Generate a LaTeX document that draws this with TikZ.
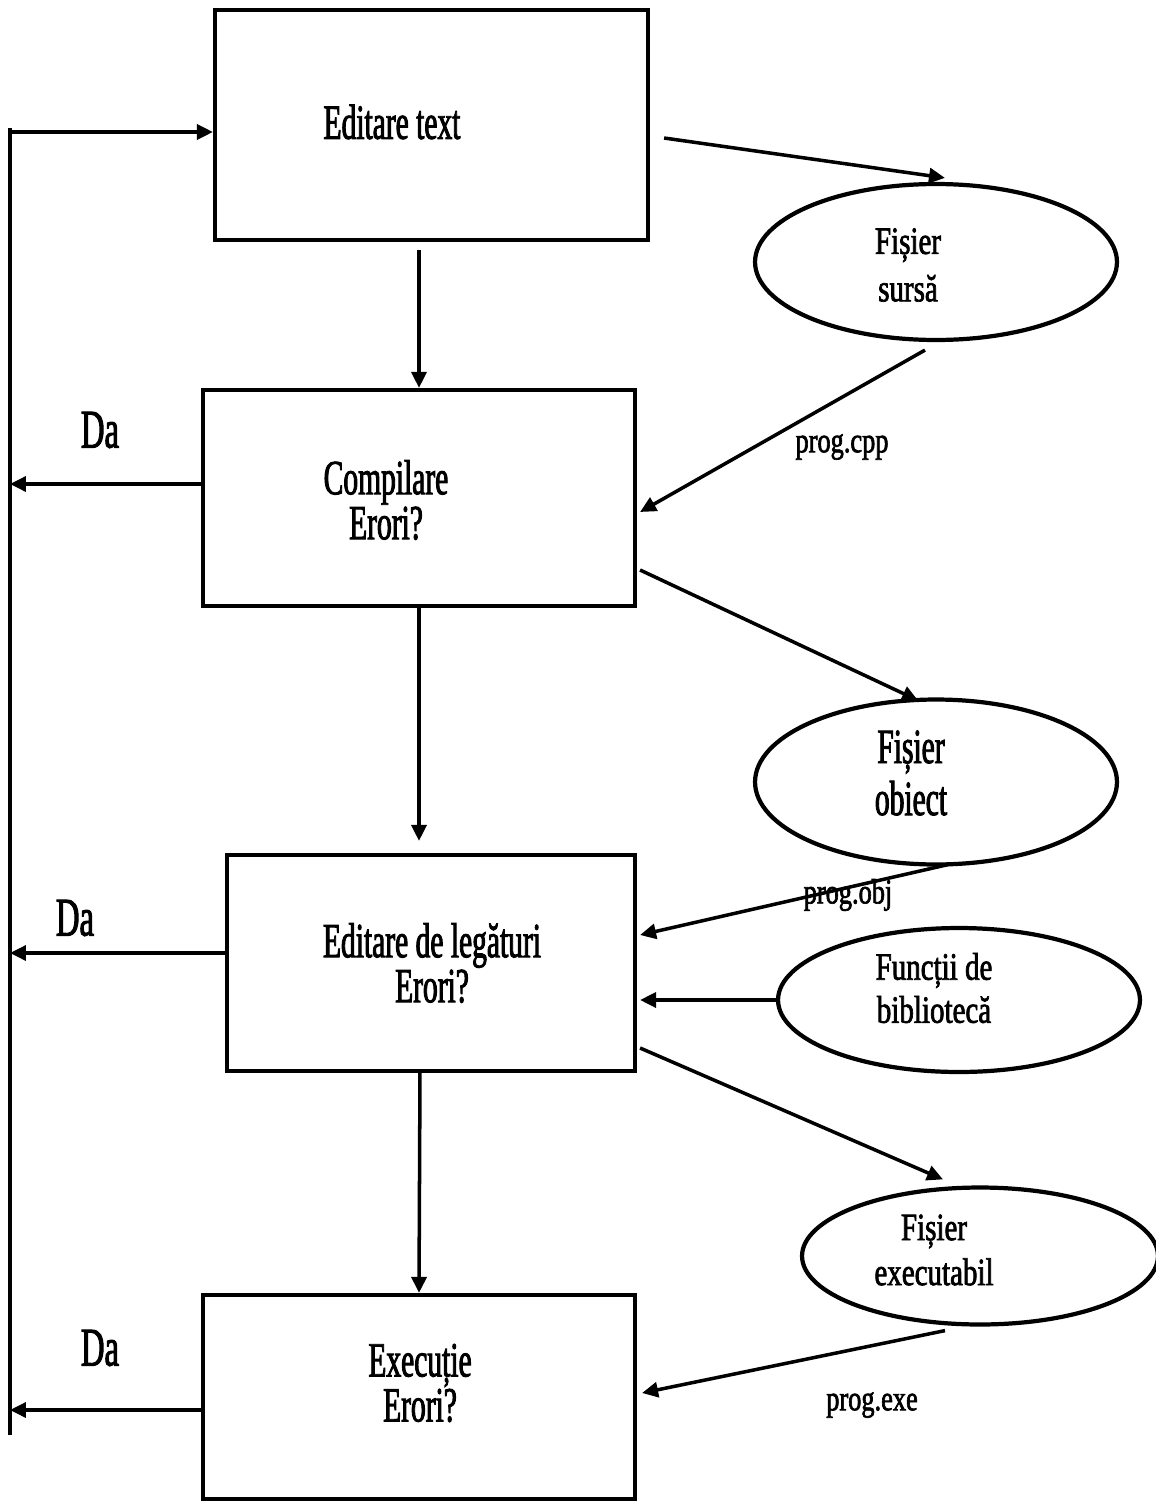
\documentclass[tikz,border=0pt]{standalone}
\usepackage{fontspec}
\setmainfont{Liberation Serif}[FakeStretch=0.6, FakeBold=1.8]
\newfontfamily\ovalfont{Liberation Serif}[FakeStretch=0.75, FakeBold=1.8]
\usetikzlibrary{positioning,arrows.meta,shapes.geometric}

\begin{document}
\begin{tikzpicture}[
  x=0.02cm, y=-0.02cm,
  stage/.style={draw, rectangle, line width=2.4pt, inner sep=0pt},
  file/.style={draw, ellipse, line width=2.4pt, inner sep=0pt},
  boxtext/.style={align=center, font=\fontsize{28}{25.6}\selectfont},
  ovaltext/.style={align=center, font=\ovalfont\fontsize{22}{27}\selectfont},
  labeltext/.style={font=\ovalfont\fontsize{20}{24}\selectfont},
  answer/.style={font=\fontsize{31}{31}\selectfont},
  flow/.style={-{Triangle[length=3.2mm,width=3mm]}, line width=2pt}
]
  \useasboundingbox (0,0) rectangle (1156,1501);

  % stages
  \node[stage, minimum width=8.66cm, minimum height=4.6cm] (edit) at (431.5,125) {};
  \node[stage, minimum width=8.64cm, minimum height=4.32cm] (comp) at (419,498) {};
  \node[stage, minimum width=8.16cm, minimum height=4.32cm] (link) at (431,963) {};
  \node[stage, minimum width=8.64cm, minimum height=4.08cm] (exec) at (419,1397) {};

  \node[boxtext] (edittxt) at (392,122) {Editare text};
  \node[boxtext] (comptxt) at (386,500) {Compilare\\Erori?};
  \node[boxtext] (linktxt) at (432,963) {Editare de legături\\Erori?};
  \node[boxtext] (exectxt) at (420,1383) {Execuție\\Erori?};

  % files
  \node[file, minimum width=7.24cm, minimum height=3.12cm] (sursa) at (936,262) {};
  \node[file, minimum width=7.24cm, minimum height=3.3cm] (obiect) at (936,782) {};
  \node[file, minimum width=7.24cm, minimum height=2.88cm] (functii) at (959,1000) {};
  \node[file, minimum width=7.12cm, minimum height=2.74cm] (exe) at (980,1256) {};

  \node[ovaltext] (sursatxt) at (908,265) {Fișier\\sursă};
  \node[boxtext, font=\fontsize{28}{29.6}\selectfont] (obiecttxt) at (911,773) {Fișier\\obiect};
  \node[ovaltext, font=\ovalfont\fontsize{22}{24.5}\selectfont] (functiitxt) at (934,988) {Funcții de\\bibliotecă};
  \node[ovaltext, font=\ovalfont\fontsize{22}{25.6}\selectfont] (exetxt) at (934,1250) {Fișier\\executabil};

  \node[labeltext] (cpp) at (842,447) {prog.cpp};
  \node[labeltext] (obj) at (848,895) {prog.obj};
  \node[labeltext] (exelbl) at (872,1405) {prog.exe};

  \node[answer] (da1) at (100,430) {Da};
  \node[answer] (da2) at (75,918) {Da};
  \node[answer] (da3) at (100,1348) {Da};

  % return line
  \coordinate (loopin) at (10,132);
  \coordinate (loopend) at (10,1435);
  \coordinate (back1) at (10,484);
  \coordinate (back2) at (10,953);
  \coordinate (back3) at (10,1410);
  \draw[line width=2pt] (loopend) -- ([shift={(0,-4)}]loopin);
  \draw[flow] (loopin) -- (loopin -| edit.west);
  \draw[flow] (comp.west |- back1) -- (back1);
  \draw[flow] (link.west |- back2) -- (back2);
  \draw[flow] (exec.west |- back3) -- (back3);

  % main flow
  \draw[flow] ([shift={(-12.5,8)}]edit.south) -- (comp.north);
  \draw[flow] (comp.south) -- ([shift={(-12,-12)}]link.north);
  \draw[flow] ([shift={(-11,-3)}]link.south) -- (exec.north);

  % files in and out
  \draw[flow] ([shift={(14,13)}]edit.east) -- ([shift={(9,-4)}]sursa.north);
  \draw[flow] ([shift={(-11,8)}]sursa.south) -- ([shift={(3,14)}]comp.east);
  \draw[flow] ([shift={(3,72)}]comp.east) -- ([shift={(-18,3)}]obiect.north);
  \draw[flow] ([shift={(12,-2)}]obiect.south) -- ([shift={(3,-28)}]link.east);
  \draw[flow] (functii.west) -- ([shift={(3,0)}]functii.west -| link.east);
  \draw[flow] ([shift={(3,85)}]link.east) -- ([shift={(-37,-6)}]exe.north);
  \draw[flow] ([shift={(-35,4)}]exe.south) -- ([shift={(5,-4)}]exec.east);
\end{tikzpicture}
\end{document}
